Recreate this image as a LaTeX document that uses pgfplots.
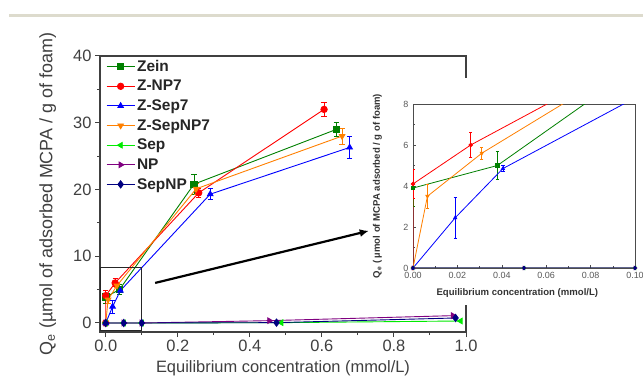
\documentclass[border=0pt]{standalone}
\usepackage{pgfplots}
\pgfplotsset{compat=1.18}
\usepackage{fontspec}
\setmainfont{Liberation Sans}
\usetikzlibrary{arrows.meta}
\definecolor{czein}{RGB}{0,128,0}
\definecolor{cnp7}{RGB}{255,0,0}
\definecolor{csep7}{RGB}{0,0,255}
\definecolor{csepnp7}{RGB}{255,128,0}
\definecolor{csep}{RGB}{0,235,0}
\definecolor{cnp}{RGB}{128,0,128}
\definecolor{csepnp}{RGB}{0,0,128}
\definecolor{topline}{RGB}{221,219,205}
\definecolor{axgray}{RGB}{64,64,64}

\pgfplotstableread{
x y e
0 3.9 0.9
0.038 5.0 0.7
0.245 20.8 1.5
0.64 29.0 1.0
}\zein
\pgfplotstableread{
x y e
0 0 0
0 4.1 0.7
0.026 6.0 0.6
0.258 19.5 0.7
0.606 32.0 1.0
}\znpseven
\pgfplotstableread{
x y e
0 0 0
0.019 2.45 1.0
0.0405 4.85 0.15
0.29 19.3 0.8
0.677 26.3 1.6
}\zsepseven
\pgfplotstableread{
x y e
0 0 0
0.0065 3.5 0.6
0.031 5.6 0.3
0.251 20.1 0.8
0.656 28.0 1.2
}\zsepnpseven
\pgfplotstableread{
x y
0 0
0.05 0
0.1 0
0.487 0.05
0.985 0.3
}\sep
\pgfplotstableread{
x y
0 0
0.05 0
0.1 0
0.454 0.35
0.964 1.1
}\np
\pgfplotstableread{
x y
0 0
0.05 0
0.1 0
0.474 0.05
0.971 0.75
}\sepnp

\begin{document}
\begin{tikzpicture}
\useasboundingbox (0,0) rectangle (643bp,376bp);
\fill[white] (0,0) rectangle (643bp,376bp);
\draw[line width=3bp, topline] (9bp,360.5bp) -- (643bp,360.5bp);

\begin{axis}[
  at={(100bp,44bp)}, anchor=south west,
  scale only axis, width=366bp, height=276bp,
  xmin=-0.016, xmax=1.0, ymin=-1.35, ymax=40,
  axis line style={axgray, line width=1.2bp},
  xtick={0,0.2,0.4,0.6,0.8,1.0}, ytick={0,10,20,30,40},
  minor x tick num=1, minor y tick num=1,
  tick align=outside, xtick pos=left, ytick pos=left,
  major tick length=5bp, minor tick length=3bp,
  tick style={axgray, line width=1bp},
  x tick label style={/pgf/number format/fixed, /pgf/number format/fixed zerofill, /pgf/number format/precision=1},
  /pgf/number format/assume math mode=true,
  ticklabel style={font=\fontsize{16.5}{16.5}\selectfont, text=axgray},
  xlabel={Equilibrium concentration (mmol/L)},
  ylabel={Q\textsubscript{e} (µmol of adsorbed MCPA / g of foam)},
  xlabel style={font=\fontsize{16.5}{16.5}\selectfont, text=axgray, at={(axis description cs:0.5,-0.132)}, anchor=center},
  ylabel style={font=\fontsize{18}{18}\selectfont, text=axgray, at={(axis description cs:-0.143,0.5)}, anchor=center},
  every axis plot/.append style={line width=0.9bp},
  mark size=3.2bp,
  error bars/y dir=both, error bars/y explicit,
  error bars/error bar style={line width=0.9bp},
  error bars/error mark options={rotate=90, mark size=2.6bp, line width=0.9bp},
  legend style={at={(axis description cs:0,1)}, anchor=north west, draw=none, fill=none,
    xshift=4bp, yshift=-1bp,
    font=\bfseries\fontsize{15.5}{15.5}\selectfont, text=black!85,
    row sep=3.4bp, inner xsep=2bp, inner ysep=1bp,
    /tikz/every even column/.append style={column sep=2bp}},
  legend cell align=left,
  legend image code/.code={\draw[mark repeat=2,mark phase=2,#1] plot coordinates {(0bp,0bp) (14bp,0bp) (28bp,0bp)};},
  clip=true,
]
\addplot[czein, mark=square*, mark options={czein}] table[x=x,y=y,y error=e] {\zein};
\addlegendentry{Zein}
\addplot[cnp7, mark=*, mark options={cnp7}] table[x=x,y=y,y error=e] {\znpseven};
\addlegendentry{Z-NP7}
\addplot[csep7, mark=triangle*, mark options={csep7}] table[x=x,y=y,y error=e] {\zsepseven};
\addlegendentry{Z-Sep7}
\addplot[csepnp7, mark=triangle*, mark options={csepnp7, rotate=180}] table[x=x,y=y,y error=e] {\zsepnpseven};
\addlegendentry{Z-SepNP7}
\addplot[csep, mark=triangle*, mark options={csep, rotate=90}, error bars/y dir=none] table[x=x,y=y] {\sep};
\addlegendentry{Sep}
\addplot[cnp, mark=triangle*, mark options={cnp, rotate=-90}, error bars/y dir=none] table[x=x,y=y] {\np};
\addlegendentry{NP}
\addplot[csepnp, mark=diamond*, mark options={csepnp}, mark size=3.6bp, error bars/y dir=none] table[x=x,y=y] {\sepnp};
\addlegendentry{SepNP}
\draw[black!85, line width=0.9bp] (axis cs:-0.016,-1.1) rectangle (axis cs:0.1,8.25);
\draw[black, line width=2.2bp, -{Latex[length=9bp,width=8bp]}] (axis cs:0.137,6.0) -- (axis cs:0.73,13.8);
\end{axis}

\fill[white] (370bp,71bp) rectangle (643bp,298bp);

\begin{axis}[
  at={(413bp,108bp)}, anchor=south west,
  scale only axis, width=222bp, height=164bp,
  xmin=0, xmax=0.1, ymin=0, ymax=8,
  axis line style={black!70, line width=0.9bp},
  xtick={0,0.02,0.04,0.06,0.08,0.1}, ytick={0,2,4,6,8},
  minor x tick num=1, minor y tick num=1,
  tick align=inside, xtick pos=left, ytick pos=left,
  major tick length=3bp, minor tick length=2bp,
  tick style={black!70, line width=0.6bp},
  x tick label style={/pgf/number format/fixed, /pgf/number format/fixed zerofill, /pgf/number format/precision=2, yshift=-1bp},
  y tick label style={xshift=-1bp},
  /pgf/number format/assume math mode=true,
  ticklabel style={font=\fontsize{9}{9}\selectfont, text=black!65},
  xlabel={Equilibrium concentration (mmol/L)},
  ylabel={Q\textsubscript{e} ( µmol of MCPA adsorbed / g of foam)},
  label style={font=\bfseries\fontsize{9.6}{9.6}\selectfont, text=black!80},
  xlabel style={at={(axis description cs:0.47,-0.15)}, anchor=center},
  ylabel style={at={(axis description cs:-0.16,0.5)}, anchor=center},
  every axis plot/.append style={line width=0.8bp},
  mark size=1.8bp,
  error bars/y dir=both, error bars/y explicit,
  error bars/error bar style={line width=0.8bp},
  error bars/error mark options={rotate=90, mark size=1.6bp, line width=0.8bp},
  clip=true,
]
\addplot[czein, mark=square*, mark options={czein}] table[x=x,y=y,y error=e] {\zein};
\addplot[cnp7, mark=*, mark options={cnp7}] table[x=x,y=y,y error=e] {\znpseven};
\addplot[csep7, mark=triangle*, mark options={csep7}] table[x=x,y=y,y error=e] {\zsepseven};
\addplot[csepnp7, mark=triangle*, mark options={csepnp7, rotate=180}] table[x=x,y=y,y error=e] {\zsepnpseven};
\addplot[csep, mark=triangle*, mark options={csep, rotate=90}, error bars/y dir=none] table[x=x,y=y] {\sep};
\addplot[cnp, mark=triangle*, mark options={cnp, rotate=-90}, error bars/y dir=none] table[x=x,y=y] {\np};
\addplot[csepnp, mark=diamond*, mark options={csepnp}, error bars/y dir=none] table[x=x,y=y] {\sepnp};
\end{axis}
\end{tikzpicture}
\end{document}
